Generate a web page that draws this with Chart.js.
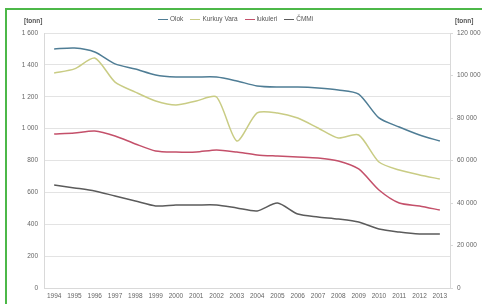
<!DOCTYPE html>
<html>
<head>
<meta charset="utf-8">
<script src="https://cdn.jsdelivr.net/npm/chart.js@4/dist/chart.umd.min.js"></script>
<style>
    html, body { margin: 0; padding: 0; background: #fff; }
    #wrap { position: relative; width: 482px; height: 304px; overflow: hidden; font-family: "Liberation Sans", Arial, sans-serif; }
    #frame { position: absolute; left: 5px; top: 8px; width: 500px; height: 310px; border: 2px solid #4cb848; box-sizing: border-box; pointer-events: none; }
    #chart { position: absolute; left: 0; top: 0; }
    .unit { position: absolute; top: 17px; font-size: 6.5px; color: #555; font-weight: bold; }
    #legend { position: absolute; top: 15px; left: 158px; font-size: 6.5px; color: #555; white-space: nowrap; }
    #legend span.item { margin-right: 7px; }
    #legend i { display: inline-block; width: 10px; height: 1.5px; vertical-align: middle; margin-right: 2px; }
</style>
</head>
<body>
<div id="wrap">
    <canvas id="chart" width="482" height="304"></canvas>
    <div class="unit" style="left:24px">[tonn]</div>
    <div class="unit" style="left:455px">[tonn]</div>
    <div id="legend"></div>
    <div id="frame"></div>
</div>
<script>
const years = ['1994', '1995', '1996', '1997', '1998', '1999', '2000', '2001', '2002', '2003',
               '2004', '2005', '2006', '2007', '2008', '2009', '2010', '2011', '2012', '2013'];

// left axis (tonn)
const olok = [1500, 1506, 1481, 1406, 1374, 1337, 1324, 1324, 1324, 1299,
              1268, 1261, 1261, 1255, 1243, 1217, 1067, 1010, 960, 922];
const lukuleri = [966, 973, 985, 954, 904, 860, 853, 853, 866, 853,
                  835, 828, 822, 816, 797, 747, 615, 533, 515, 489];
const cmmi = [646, 628, 609, 577, 546, 515, 521, 521, 521, 502,
              483, 533, 464, 446, 433, 414, 370, 351, 339, 339];
// right axis (tonn)
const kurkuyVara = [101200, 103100, 108200, 96900, 92200, 88000, 86100, 88000, 89900, 69200,
                    82400, 82400, 80000, 75300, 70600, 72000, 59300, 55500, 53200, 51300];

const seriesNames = ['Olok', 'Kurkuy Vara', 'lukuleri', 'ČMMi'];
const seriesColors = ['#4f7d95', '#c9cc84', '#c4506a', '#5b5b5b'];

const spaceThousands = v => String(v).replace(/\B(?=(\d{3})+(?!\d))/g, ' ');
const tickFont = { family: '"Liberation Sans", Arial, sans-serif', size: 6.5 };

// html legend
const legendEl = document.getElementById('legend');
legendEl.innerHTML = seriesNames.map((name, i) =>
    `<span class="item"><i style="background:${seriesColors[i]}"></i>${name}</span>`).join('');

const mkSet = (i, data, axis) => ({
    label: seriesNames[i],
    data,
    yAxisID: axis,
    borderColor: seriesColors[i],
    backgroundColor: seriesColors[i],
    borderWidth: 1.5,
    pointRadius: 0,
    tension: 0.25,
    fill: false
});

new Chart(document.getElementById('chart'), {
    type: 'line',
    data: {
        labels: years,
        datasets: [
            mkSet(0, olok, 'y'),
            mkSet(1, kurkuyVara, 'y1'),
            mkSet(2, lukuleri, 'y'),
            mkSet(3, cmmi, 'y')
        ]
    },
    options: {
        responsive: false,
        animation: false,
        events: [],
        layout: { padding: { top: 33, left: 0, right: 0, bottom: 0 } },
        plugins: { legend: { display: false }, tooltip: { enabled: false } },
        scales: {
            x: {
                offset: true,
                grid: { display: false, drawTicks: false },
                border: { color: '#d9d9d9' },
                ticks: { font: tickFont, color: '#666', maxRotation: 0, autoSkip: false, padding: 4 },
                afterFit: s => { s.height = 16; }
            },
            y: {
                position: 'left',
                min: 0, max: 1600,
                ticks: { stepSize: 200, font: tickFont, color: '#666', padding: 6, callback: spaceThousands },
                grid: { color: '#e3e3e3', drawTicks: false },
                border: { color: '#d9d9d9' },
                afterFit: s => { s.width = 44; }
            },
            y1: {
                position: 'right',
                min: 0, max: 120000,
                ticks: { stepSize: 20000, font: tickFont, color: '#666', padding: 4, callback: spaceThousands },
                grid: { drawOnChartArea: false, tickLength: 3, color: '#d9d9d9' },
                border: { color: '#d9d9d9' },
                afterFit: s => { s.width = 32; }
            }
        }
    }
});
</script>
</body>
</html>
